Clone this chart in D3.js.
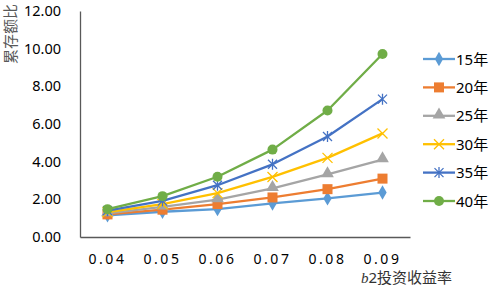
<!DOCTYPE html>
<html lang="zh">
<head>
<meta charset="UTF-8">
<script src="https://d3js.org/d3.v7.min.js"></script>
<style>
  body { margin: 0; background: #fff; }
  text { font-family: "Noto Sans", "Noto Sans CJK SC", sans-serif; fill: #000; }
</style>
</head>
<body>
<div id="chart"></div>
<script>
// data
const rates = ["0.04", "0.05", "0.06", "0.07", "0.08", "0.09"];
const yTicks = [0, 2, 4, 6, 8, 10, 12];
const seriesNames = ["15年", "20年", "25年", "30年", "35年", "40年"];
const y15 = [1.15, 1.34, 1.48, 1.78, 2.05, 2.36];
const y20 = [1.20, 1.45, 1.75, 2.10, 2.54, 3.10];
const y25 = [1.25, 1.60, 1.99, 2.58, 3.32, 4.11];
const y30 = [1.32, 1.75, 2.33, 3.19, 4.20, 5.50];
const y35 = [1.40, 1.92, 2.75, 3.86, 5.34, 7.32];
const y40 = [1.48, 2.17, 3.20, 4.64, 6.72, 9.72];
const allValues = [y15, y20, y25, y30, y35, y40];

const colors = ["#5B9BD5", "#ED7D31", "#A5A5A5", "#FFC000", "#4472C4", "#70AD47"];
const markers = ["diamond", "square", "triangle", "x", "star", "circle"];

const width = 492, height = 286;
const margin = { top: 11, right: 82, bottom: 49, left: 80 };

const svg = d3.select("#chart").append("svg")
  .attr("width", width).attr("height", height);

const x = d3.scaleBand().domain(rates).range([margin.left, width - margin.right]);
const y = d3.scaleLinear().domain([0, 12]).range([height - margin.bottom, margin.top]);

// axes
const yAxis = svg.append("g")
  .attr("transform", `translate(${margin.left},0)`)
  .call(d3.axisLeft(y).tickValues(yTicks).tickFormat(d3.format(".2f")).tickSize(0).tickPadding(19));
yAxis.select(".domain").attr("stroke", "#595959").attr("stroke-width", 1.3);
yAxis.selectAll("text").style("font-size", "14.5px").attr("fill", "#000");

const xAxis = svg.append("g")
  .attr("transform", `translate(0,${height - margin.bottom})`)
  .call(d3.axisBottom(x).tickSize(0).tickPadding(17));
xAxis.select(".domain").attr("stroke", "#595959").attr("stroke-width", 1.3);
xAxis.selectAll("text").style("font-size", "14px").style("letter-spacing", "2.6px").attr("fill", "#000");

// axis titles
svg.append("text")
  .attr("transform", "translate(16,34) rotate(-90)")
  .attr("text-anchor", "middle")
  .style("font-size", "15px").style("fill", "#595959")
  .text("累存额比");

const xt = svg.append("text")
  .attr("x", 361).attr("y", 283)
  .style("font-size", "15px").style("fill", "#333");
xt.append("tspan").style("font-style", "italic").style("font-family", "'Liberation Serif', serif").text("b");
xt.append("tspan").text("2投资收益率");

// marker drawing
function drawMarker(g, type, color, cx, cy) {
  if (type === "diamond") {
    g.append("path").attr("d", d3.symbol(d3.symbolDiamond, 60)()).attr("transform", `translate(${cx},${cy})`).attr("fill", color);
  } else if (type === "square") {
    g.append("rect").attr("x", cx - 5).attr("y", cy - 5).attr("width", 10).attr("height", 10).attr("fill", color);
  } else if (type === "triangle") {
    g.append("path").attr("d", d3.symbol(d3.symbolTriangle, 70)()).attr("transform", `translate(${cx},${cy - 1})`).attr("fill", color);
  } else if (type === "x") {
    g.append("path").attr("d", `M${cx - 5},${cy - 5}L${cx + 5},${cy + 5}M${cx - 5},${cy + 5}L${cx + 5},${cy - 5}`)
      .attr("stroke", color).attr("stroke-width", 1.3);
  } else if (type === "star") {
    g.append("path").attr("d", `M${cx - 4.5},${cy - 4.5}L${cx + 4.5},${cy + 4.5}M${cx - 4.5},${cy + 4.5}L${cx + 4.5},${cy - 4.5}M${cx},${cy - 5.5}L${cx},${cy + 5.5}`)
      .attr("stroke", color).attr("stroke-width", 1.3);
  } else {
    g.append("circle").attr("cx", cx).attr("cy", cy).attr("r", 5).attr("fill", color);
  }
}

// series
const line = d3.line().x((d, i) => x(rates[i]) + x.bandwidth() / 2).y(d => y(d));

allValues.forEach((vals, s) => {
  const g = svg.append("g");
  g.append("path").datum(vals).attr("d", line)
    .attr("fill", "none").attr("stroke", colors[s]).attr("stroke-width", 2.3).attr("stroke-linejoin", "round");
  vals.forEach((v, i) => drawMarker(g, markers[s], colors[s], x(rates[i]) + x.bandwidth() / 2, y(v)));
});

// legend
const legendY = d3.scalePoint().domain(seriesNames).range([59, 201]);
seriesNames.forEach((name, s) => {
  const g = svg.append("g");
  const ly = legendY(name);
  g.append("line").attr("x1", 423).attr("x2", 455).attr("y1", ly).attr("y2", ly)
    .attr("stroke", colors[s]).attr("stroke-width", 2.3);
  drawMarker(g, markers[s], colors[s], 439, ly);
  g.append("text").attr("x", 456).attr("y", ly + 5.5).style("font-size", "15px").text(name);
});
</script>
</body>
</html>
